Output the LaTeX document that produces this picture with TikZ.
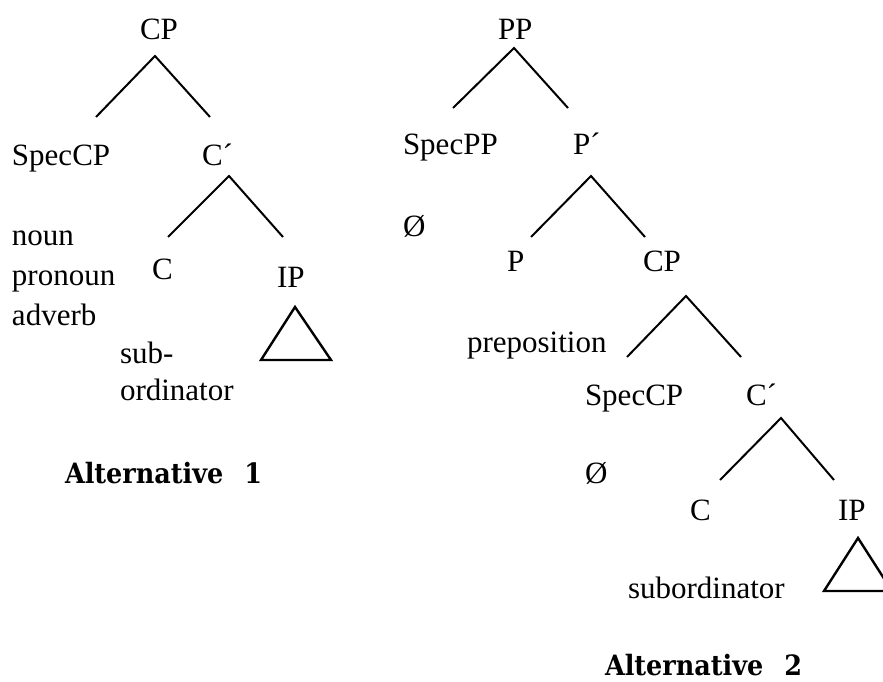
\documentclass[tikz,border=0pt]{standalone}
\usepackage{fontspec}
\setmainfont{Liberation Serif}
\newfontfamily\labelfont{DejaVu Serif}[BoldFont={DejaVu Serif Bold}]
\newcommand{\altlabel}[1]{\scalebox{0.91}[1]{\labelfont\bfseries\fontsize{28}{34}\selectfont Alternative\hspace{23pt}#1}}
\begin{document}
\begin{tikzpicture}[x=1pt,y=-1pt,
  word/.style={anchor=base west,inner sep=0pt,outer sep=0pt,font=\fontsize{31}{40}\selectfont},
  caption/.style={anchor=base west,inner sep=0pt,outer sep=0pt},
  branch/.style={line width=2pt},
  roof/.style={line width=2.4pt,line join=miter}]
\useasboundingbox (0,0) rectangle (883,682);
\clip (0,0) rectangle (883,682);

% ---------- first tree ----------
\node[word] (cp1) at (140,40) {CP};
\coordinate (cp1top) at (155,56);
\coordinate (cp1l) at (96,117);
\coordinate (cp1r) at (210,117);
\draw[branch] (cp1l) -- (cp1top) -- (cp1r);

\node[word] (spec1) at (12,165) {SpecCP};
\node[word] (cbar1) at (202,165) {C´};
\coordinate (cbar1top) at (229,176);
\coordinate (cbar1l) at (168,237);
\coordinate (cbar1r) at (283,237);
\draw[branch] (cbar1l) -- (cbar1top) -- (cbar1r);

\node[word] (noun) at (12,245) {noun};
\node[word] (pronoun) at (12,285) {pronoun};
\node[word] (adverb) at (12,325) {adverb};

\node[word] (c1) at (152,279) {C};
\node[word] (ip1) at (277,287) {IP};
\coordinate (tri1a) at (295,307);
\coordinate (tri1b) at (261,360);
\coordinate (tri1c) at (331,360);
\draw[roof] (tri1a) -- (tri1b) -- (tri1c) -- cycle;

\node[word] (sub1) at (120,363) {sub-};
\node[word] (ord1) at (120,400) {ordinator};

\node[caption] (alt1) at (65,483) {\altlabel{1}};

% ---------- second tree ----------
\node[word] (pp) at (498,40) {PP};
\coordinate (pptop) at (514,48);
\coordinate (ppl) at (453,108);
\coordinate (ppr) at (568,108);
\draw[branch] (ppl) -- (pptop) -- (ppr);

\node[word] (specpp) at (403,154) {SpecPP};
\node[word] (pbar) at (573,154) {P´};
\coordinate (pbartop) at (591,176);
\coordinate (pbarl) at (531,237);
\coordinate (pbarr) at (645,237);
\draw[branch] (pbarl) -- (pbartop) -- (pbarr);

\node[word] (empty1) at (403,236) {Ø};
\node[word] (p) at (507,271) {P};
\node[word] (cp2) at (643,271) {CP};
\coordinate (cp2top) at (686,296);
\coordinate (cp2l) at (627,357);
\coordinate (cp2r) at (741,357);
\draw[branch] (cp2l) -- (cp2top) -- (cp2r);

\node[word] (prep) at (467,352) {preposition};

\node[word] (spec2) at (585,405) {SpecCP};
\node[word] (cbar2) at (746,405) {C´};
\coordinate (cbar2top) at (781,418);
\coordinate (cbar2l) at (720,480);
\coordinate (cbar2r) at (834,480);
\draw[branch] (cbar2l) -- (cbar2top) -- (cbar2r);

\node[word] (empty2) at (585,483) {Ø};
\node[word] (c2) at (690,520) {C};
\node[word] (ip2) at (838,520) {IP};
\coordinate (tri2a) at (858,538);
\coordinate (tri2b) at (824,591);
\coordinate (tri2c) at (892,591);
\draw[roof] (tri2a) -- (tri2b) -- (tri2c) -- cycle;

\node[word] (sub2) at (628,598) {subordinator};

\node[caption] (alt2) at (605,675) {\altlabel{2}};
\end{tikzpicture}
\end{document}
